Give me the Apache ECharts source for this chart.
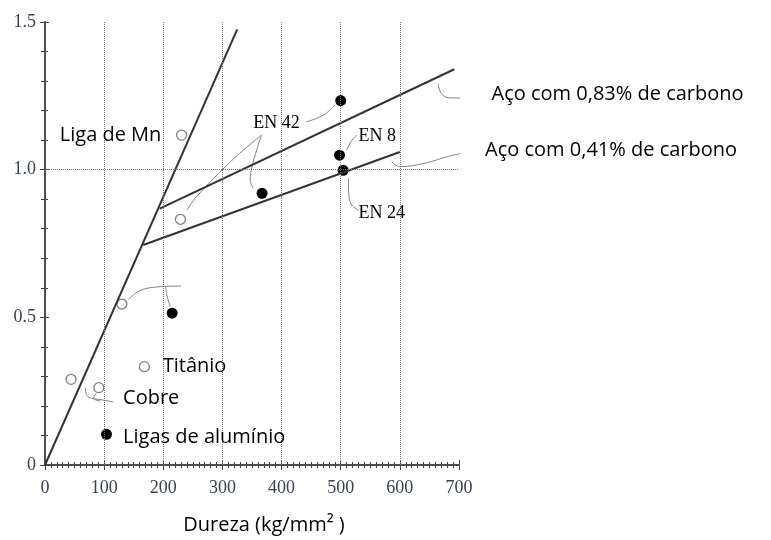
<!DOCTYPE html>
<html>
<head>
<meta charset="utf-8">
<script src="https://cdn.jsdelivr.net/npm/echarts@6/dist/echarts.min.js"></script>
<style>
  html, body { margin: 0; padding: 0; background: #fff; }
  #chart { width: 771px; height: 540px; }
</style>
</head>
<body>
<div id="chart"></div>
<script>
// eixo X (dureza) e eixo Y
var xTicks = [0, 100, 200, 300, 400, 500, 600, 700];
var yTicks = [0, 0.5, 1.0, 1.5];
var xGrid = [100, 200, 300, 400, 500, 600];
var yGrid = [1.0];

// retas
var steepLine = [[0, 0], [325, 1.475]];
var line083 = [[194, 0.868], [692, 1.34]];
var line041 = [[166, 0.745], [600, 1.06]];

// pontos
var hollowPts = [[231, 1.117], [229, 0.832], [130, 0.545], [168, 0.333], [44, 0.29], [91, 0.262]];
var filledPts = [[215, 0.514], [104, 0.104], [367, 0.92], [500, 1.234], [498, 1.049], [504, 0.998]];

// linhas de chamada (coordenadas de dados)
var leaders = [
  [[665, 1.292], [670, 1.258], [684, 1.243], [730, 1.242]],
  [[586, 1.027], [600, 1.01], [640, 1.021], [690, 1.049], [730, 1.064]],
  [[442, 1.162], [471, 1.185], [490, 1.219]],
  [[366, 1.117], [318, 1.035], [256, 0.908], [240, 0.863]],
  [[366, 1.117], [358, 1.067], [350, 1.01], [347, 0.965], [352, 0.937]],
  [[510, 1.066], [519, 1.1], [527, 1.117]],
  [[513, 0.971], [514, 0.908], [519, 0.88], [530, 0.863]],
  [[141, 0.56], [160, 0.59], [190, 0.603], [230, 0.606]],
  [[204, 0.603], [206, 0.575], [212, 0.535]],
  [[68, 0.261], [73, 0.231], [98, 0.22], [115, 0.214]],
  [[87, 0.244], [82, 0.226], [93, 0.217]]
];

// textos
var sansNotes = [
  ["Liga de Mn", 25, 1.117],
  ["Titânio", 199, 0.335],
  ["Cobre", 132, 0.227],
  ["Ligas de alumínio", 132, 0.093],
  ["Aço com 0,83% de carbono", 755, 1.256],
  ["Aço com 0,41% de carbono", 744, 1.065]
];
var serifNotes = [
  ["EN 42", 352, 1.157],
  ["EN 8", 530, 1.112],
  ["EN 24", 530, 0.853]
];

var chart = echarts.init(document.getElementById("chart"), null, { renderer: "canvas" });

var tickColor = "#3a4150";
var axisColor = "#444";
var gridStyle = { color: "#777", width: 1, type: "dotted" };

function noteSeries(notes, font, size) {
  return {
    type: "scatter",
    symbolSize: 0,
    clip: false,
    silent: true,
    z: 5,
    itemStyle: { opacity: 1 },
    data: notes.map(function (n) { return { name: n[0], value: [n[1], n[2]] }; }),
    label: {
      show: true,
      position: "right",
      distance: 0,
      formatter: "{b}",
      fontFamily: font,
      fontSize: size,
      color: "#000",
      opacity: 1
    },
    emphasis: { disabled: true }
  };
}

var series = [];

leaders.forEach(function (pts) {
  series.push({
    type: "line",
    data: pts,
    smooth: 0.4,
    symbol: "none",
    silent: true,
    clip: false,
    lineStyle: { color: "#808080", width: 1 }
  });
});

[steepLine, line083, line041].forEach(function (pts, i) {
  var s = {
    type: "line",
    data: pts,
    symbol: "none",
    silent: true,
    lineStyle: { color: "#333", width: 2 }
  };
  if (i === 0) {
    // linhas de grade pontilhadas
    s.markLine = {
      silent: true,
      symbol: "none",
      label: { show: false },
      lineStyle: gridStyle,
      data: xGrid.map(function (v) { return { xAxis: v }; })
        .concat(yGrid.map(function (v) { return { yAxis: v }; }))
    };
  }
  series.push(s);
});

series.push({
  type: "scatter",
  data: hollowPts,
  symbol: "circle",
  symbolSize: 10,
  itemStyle: { color: "#fff", borderColor: "#808080", borderWidth: 1.3, opacity: 1 }
});
series.push({
  type: "scatter",
  data: filledPts,
  symbol: "circle",
  symbolSize: 11,
  itemStyle: { color: "#000", opacity: 1 }
});

series.push(noteSeries(sansNotes, "Open Sans", 20));
series.push(noteSeries(serifNotes, "Liberation Serif", 18));

var option = {
  animation: false,
  grid: { left: 45, right: 312, top: 22, bottom: 75 },
  xAxis: [
    {
      type: "value",
      min: xTicks[0],
      max: xTicks[xTicks.length - 1],
      interval: 100,
      name: "Dureza (kg/mm² )",
      nameLocation: "middle",
      nameGap: 50,
      nameTextStyle: { fontFamily: "Open Sans", fontSize: 20, color: "#000", padding: [0, 0, 0, 24] },
      axisLine: { show: true, lineStyle: { color: axisColor, width: 1.5 } },
      axisTick: { show: true, inside: true, length: 5, lineStyle: { color: axisColor } },
      minorTick: { show: true, splitNumber: 10, length: 3, lineStyle: { color: axisColor } },
      axisLabel: { margin: 14, fontFamily: "Liberation Serif", fontSize: 18, color: tickColor },
      splitLine: { show: false }
    },
    {
      type: "value",
      position: "top",
      min: xTicks[0],
      max: xTicks[xTicks.length - 1],
      interval: 100,
      axisLine: { show: true, lineStyle: { color: axisColor, width: 1.5 } },
      axisTick: { show: true, inside: true, length: 5, lineStyle: { color: axisColor } },
      minorTick: { show: true, splitNumber: 10, length: 3, lineStyle: { color: axisColor } },
      axisLabel: { show: false },
      splitLine: { show: false }
    }
  ],
  yAxis: [
    {
      type: "value",
      min: yTicks[0],
      max: yTicks[yTicks.length - 1],
      interval: 0.5,
      axisLine: { show: true, lineStyle: { color: axisColor, width: 1.5 } },
      axisTick: { show: true, inside: true, length: 4, lineStyle: { color: axisColor } },
      minorTick: { show: true, splitNumber: 5, length: 3, lineStyle: { color: axisColor } },
      axisLabel: {
        margin: 9,
        fontFamily: "Liberation Serif",
        fontSize: 18,
        color: tickColor,
        formatter: function (v) { return v === 0 ? "0" : v.toFixed(1); }
      },
      splitLine: { show: false }
    },
    {
      type: "value",
      position: "right",
      min: yTicks[0],
      max: yTicks[yTicks.length - 1],
      interval: 0.5,
      axisLine: { show: true, lineStyle: { color: axisColor, width: 1.5 } },
      axisTick: { show: true, inside: true, length: 5, lineStyle: { color: axisColor } },
      minorTick: { show: true, splitNumber: 5, length: 4, lineStyle: { color: axisColor } },
      axisLabel: { show: false },
      splitLine: { show: false }
    }
  ],
  series: series
};

chart.setOption(option);
window.addEventListener("resize", chart.resize);
</script>
</body>
</html>
